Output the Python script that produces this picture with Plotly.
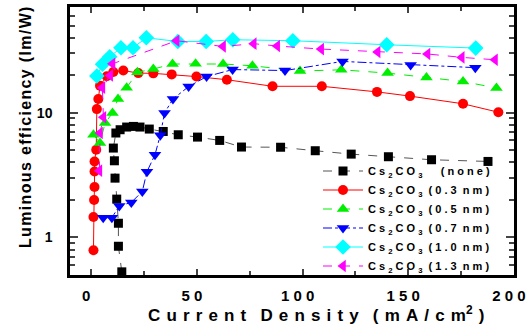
import plotly.graph_objects as go

T = "\u00a0"
NB = "\u00a0"
H = "\u200a"

def sp(s, sep=T):
    return sep.join(list(s))

none_x = [14.5, 12.9, 12.9, 12.1, 11.3, 11.0, 10.5, 11.7, 13.7, 16.8, 20.0, 23.1, 27.5, 34.1, 41.2, 50.3, 60.8, 71.1, 89.6, 106.0, 123.0, 140.6, 161.0, 187.7]
none_y = [0.53, 0.85, 1.30, 2.03, 2.99, 4.12, 5.21, 6.88, 7.31, 7.68, 7.77, 7.68, 7.40, 7.08, 6.66, 6.38, 6.00, 5.31, 5.29, 4.96, 4.66, 4.44, 4.20, 4.07]

n03_x = [1.1, 1.1, 1.4, 1.6, 1.6, 1.6, 2.4, 2.7, 3.4, 4.2, 7.4, 10.5, 15.2, 22.3, 29.4, 38.1, 49.8, 64.2, 85.8, 109.1, 135.2, 150.8, 175.9, 192.6]
n03_y = [0.79, 1.46, 2.00, 2.54, 3.38, 4.07, 5.05, 10.7, 12.9, 16.5, 19.6, 21.2, 21.8, 20.8, 20.7, 20.3, 19.5, 18.4, 16.3, 16.3, 14.7, 13.6, 11.8, 10.1]

n05_x = [1.1, 4.2, 6.6, 10.1, 12.7, 16.8, 21.9, 29.4, 38.5, 49.4, 62.4, 76.3, 98.8, 118.3, 140.2, 158.6, 175.9, 191.7]
n05_y = [6.66, 5.72, 8.27, 9.95, 12.9, 15.9, 21.1, 22.4, 24.6, 24.7, 24.6, 23.8, 21.6, 22.1, 20.8, 19.2, 17.8, 15.8]

n07_x = [5.7, 9.8, 13.3, 19.0, 24.2, 26.4, 30.2, 32.7, 34.7, 38.7, 46.1, 54.6, 66.9, 91.7, 118.9, 151.1, 181.7]
n07_y = [1.44, 1.44, 1.79, 1.91, 2.34, 3.37, 4.61, 6.6, 9.95, 12.9, 16.2, 19.5, 22.2, 21.8, 25.8, 24.2, 23.0]

n10_x = [2.7, 5.4, 8.8, 14.1, 19.8, 26.1, 41.0, 54.4, 67.0, 95.4, 139.8, 181.9]
n10_y = [19.7, 24.5, 28.1, 33.2, 33.2, 39.9, 37.3, 37.3, 38.5, 37.8, 35.1, 33.0]

n13_x = [3.9, 4.2, 5.8, 5.3, 9.0, 10.1, 40.4, 62.4, 76.9, 88.0, 108.8, 135.5, 159.1, 175.3, 191.0]
n13_y = [3.43, 6.88, 9.2, 15.9, 19.9, 24.7, 37.8, 34.0, 35.8, 34.3, 32.4, 30.7, 29.6, 27.8, 26.6]

cs = T.join(["C", "s", "<sub>2</sub>", "C", "O", "<sub>3</sub>"])
names = [
    cs + NB * 6 + sp("(none)"),
    cs + NB * 2 + sp("(0.3") + NB * 2 + sp("nm)"),
    cs + NB * 2 + sp("(0.5") + NB * 2 + sp("nm)"),
    cs + NB * 2 + sp("(0.7") + NB * 2 + sp("nm)"),
    cs + NB * 2 + sp("(1.0") + NB * 2 + sp("nm)"),
    cs + NB * 2 + sp("(1.3") + NB * 2 + sp("nm)"),
]

series = [
    (none_x, none_y, "#000000", "#555555", "square", "dash", 9),
    (n03_x, n03_y, "#ff0000", "#ff0000", "circle", "solid", 10),
    (n05_x, n05_y, "#00ee00", "#00ee00", "triangle-up", "dash", 11),
    (n07_x, n07_y, "#0000ff", "#0000ff", "triangle-down", "dashdot", 11),
    (n10_x, n10_y, "#00ffff", "#00ffff", "diamond", "solid", 12),
    (n13_x, n13_y, "#ff00ff", "#ff00ff", "triangle-left", "dash", 11),
]

fig = go.Figure()
for (xs, ys, mc, lc, sym, dash, ms), nm in zip(series, names):
    fig.add_trace(go.Scatter(
        x=xs, y=ys, mode="lines+markers", name=nm,
        line=dict(color=lc, width=1, dash=dash),
        marker=dict(color=mc, symbol=sym, size=ms, line=dict(width=0)),
    ))

xtick_vals = [0, 50, 100, 150, 200]
xtick_text = [NB.join(str(v)) for v in xtick_vals]

FONT = "Arial, Liberation Sans, sans-serif"

G = NB + H
W = NB * 3
xtitle = G.join("Current") + W + G.join("Density") + W + G.join("(mA/cm") + "<sup>2</sup>" + G + ")"
ytitle = H.join("Luminous efficiency (lm/W)")

fig.update_layout(
    template="none",
    width=529, height=334,
    margin=dict(l=70, r=15, t=7, b=59),
    paper_bgcolor="white", plot_bgcolor="white",
    font=dict(family=FONT, color="black", size=12, weight="bold"),
    showlegend=True,
    legend=dict(x=(318 - 70) / 444, xanchor="left", y=(275 - 218.5) / 268, yanchor="middle",
                bgcolor="rgba(0,0,0,0)", font=dict(size=11, family=FONT, weight="bold"),
                itemwidth=40, tracegroupgap=0),
    xaxis=dict(range=[-10, 200], tickvals=xtick_vals, ticktext=xtick_text,
               automargin=False, ticklabeloverflow="allow", ticklabelshift=-5,
               ticklabelstandoff=5,
               ticks="inside", ticklen=6, tickwidth=2, showline=True, linewidth=2.5,
               linecolor="black", mirror="allticks", showgrid=False, zeroline=False,
               tickfont=dict(size=15, family=FONT, weight="bold"),
               minor=dict(tick0=25, dtick=50, ticks="inside", ticklen=4, tickwidth=2)),
    yaxis=dict(type="log", range=[-0.301, 1.848], tickvals=[1, 10], ticktext=["1", "10"],
               automargin=False, ticklabelstandoff=12,
               ticks="inside", ticklen=8, tickwidth=2, showline=True, linewidth=2.5,
               linecolor="black", mirror="allticks", showgrid=False, zeroline=False,
               tickfont=dict(size=14, family=FONT, weight="bold"),
               minor=dict(dtick="D1", ticks="inside", ticklen=5, tickwidth=2)),
    annotations=[
        dict(text=xtitle,
             xref="paper", yref="paper", x=(316 - 70) / 444, y=-(314 - 275) / 268,
             xanchor="center", yanchor="middle", showarrow=False,
             font=dict(size=17, family=FONT, weight="bold")),
        dict(text=ytitle, textangle=-90,
             xref="paper", yref="paper", x=-(70 - 25) / 444, y=(275 - 128) / 268,
             xanchor="center", yanchor="middle", showarrow=False,
             font=dict(size=16, family=FONT, weight="bold")),
    ],
)

fig.write_html("out.html", config={"displayModeBar": False},
               post_script="document.body.style.margin='0';document.body.style.overflow='hidden';")
